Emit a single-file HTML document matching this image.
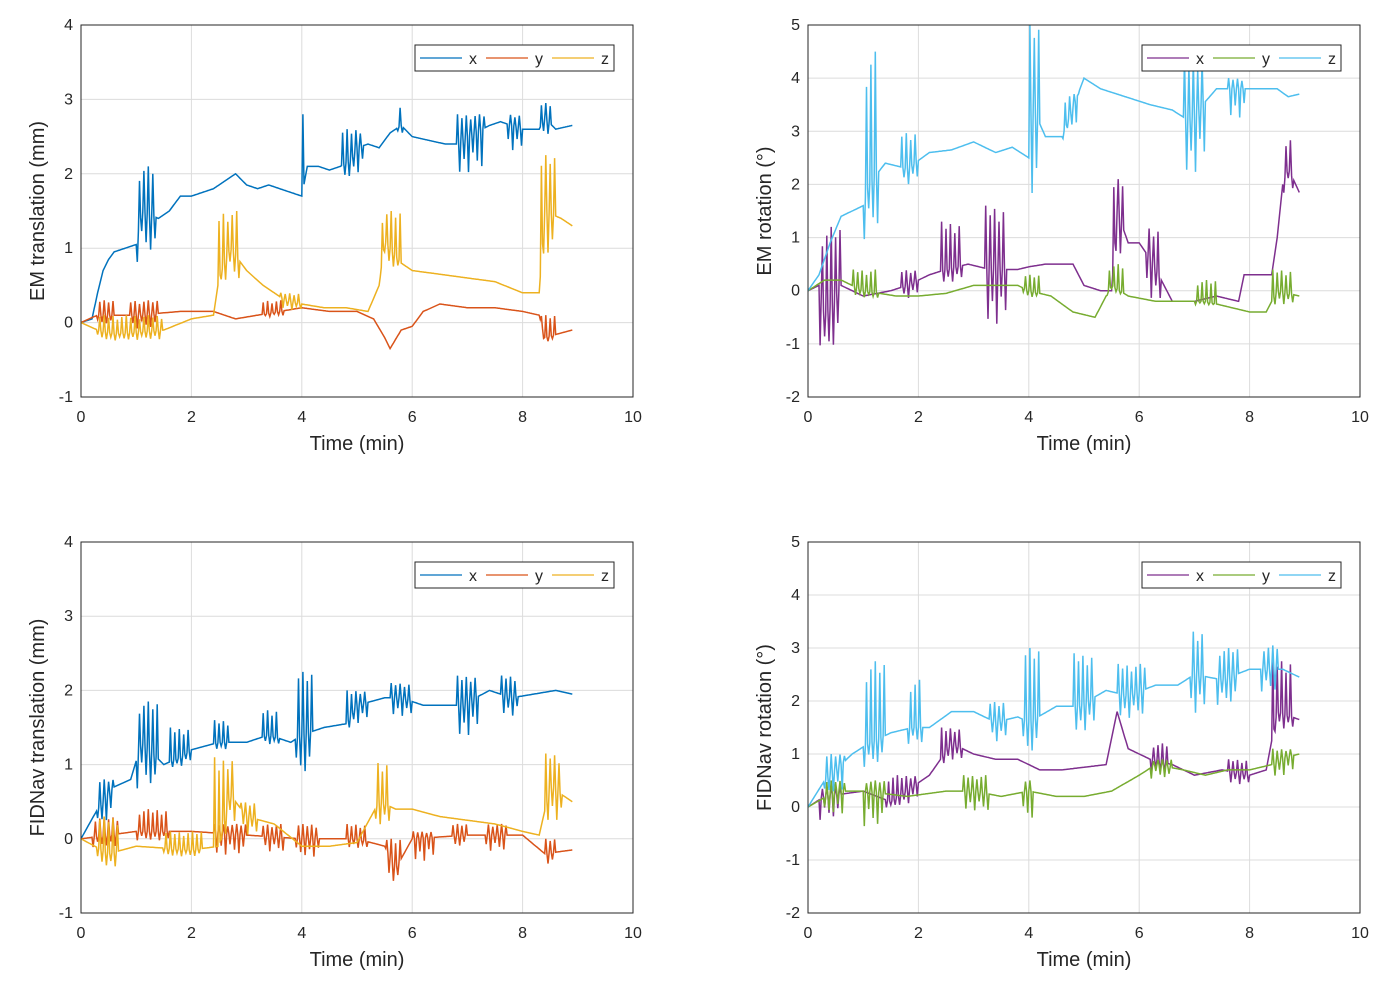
<!DOCTYPE html>
<html><head><meta charset="utf-8"><style>
body{margin:0;background:#fff}
svg{display:block;font-family:"Liberation Sans","DejaVu Sans",sans-serif}
</style></head><body>
<svg id="fig" width="1394" height="987" viewBox="0 0 1394 987"></svg>
<script>
// ---------- data ----------
const p1x=[[0,0],[0.2,0.05],[0.3,0.4],[0.4,0.7],[0.5,0.85],[0.6,0.95],[0.8,1.0],[1.0,1.05],[1.1,1.5],[1.4,1.4],[1.6,1.5],[1.8,1.7],[2.0,1.7],[2.2,1.75],[2.4,1.8],[2.6,1.9],[2.8,2.0],[3.0,1.85],[3.2,1.8],[3.4,1.85],[3.6,1.8],[3.8,1.75],[4.0,1.7],[4.1,2.1],[4.3,2.1],[4.5,2.05],[4.7,2.1],[4.9,2.2],[5.0,2.35],[5.2,2.4],[5.4,2.35],[5.6,2.55],[5.8,2.65],[6.0,2.5],[6.3,2.45],[6.6,2.4],[6.8,2.4],[7.0,2.5],[7.4,2.65],[7.6,2.7],[7.8,2.65],[8.0,2.6],[8.3,2.6],[8.4,2.75],[8.6,2.6],[8.9,2.65]];
const p1xB=[[1.0,1.35,0.6,2.1],[4.0,4.05,0.9,2.8],[4.7,5.1,1.8,2.6],[5.7,5.85,2.5,2.9],[6.8,7.3,1.7,2.8],[7.7,8.0,2.1,2.8],[8.3,8.5,2.4,2.95]];
const p1y=[[0,0],[0.3,0.1],[1.0,0.1],[1.8,0.15],[2.4,0.15],[2.8,0.05],[3.2,0.1],[3.6,0.15],[4.0,0.2],[4.5,0.15],[5.0,0.15],[5.3,0.05],[5.5,-0.2],[5.6,-0.35],[5.8,-0.1],[6.0,-0.05],[6.2,0.15],[6.5,0.25],[7.0,0.2],[7.5,0.2],[8.0,0.15],[8.3,0.1],[8.4,-0.2],[8.9,-0.1]];
const p1yB=[[0.3,0.6,-0.1,0.3],[0.9,1.4,-0.2,0.3],[3.3,3.7,0.05,0.3],[8.3,8.6,-0.3,0.1]];
const p1z=[[0,0],[0.3,-0.1],[0.6,-0.15],[1.5,-0.1],[2.0,0.05],[2.4,0.1],[2.5,0.6],[2.7,1.0],[3.0,0.7],[3.3,0.5],[3.5,0.4],[3.7,0.3],[4.0,0.25],[4.4,0.2],[4.8,0.2],[5.2,0.15],[5.4,0.5],[5.5,1.1],[5.8,0.8],[6.0,0.7],[6.5,0.65],[7.0,0.6],[7.5,0.55],[8.0,0.4],[8.3,0.4],[8.4,1.5],[8.7,1.4],[8.9,1.3]];
const p1zB=[[0.3,1.5,-0.3,0.1],[2.5,2.9,0.4,1.5],[3.6,4.0,0.1,0.4],[5.4,5.8,0.6,1.5],[8.3,8.6,0.5,2.25]];

const p2x=[[0,0],[0.2,0.1],[0.3,-0.5],[0.6,0.1],[1.0,-0.1],[1.5,0.0],[1.8,0.1],[2.2,0.3],[2.5,0.4],[2.9,0.5],[3.3,0.4],[3.8,0.4],[4.0,0.45],[4.3,0.5],[4.6,0.5],[4.8,0.5],[5.0,0.1],[5.3,0.0],[5.5,0.0],[5.6,1.5],[5.8,0.9],[6.0,0.9],[6.2,0.6],[6.6,-0.2],[7.0,-0.2],[7.4,-0.1],[7.8,-0.2],[7.9,0.3],[8.2,0.3],[8.4,0.3],[8.5,1.0],[8.6,2.0],[8.7,2.3],[8.9,1.85]];
const p2xB=[[0.2,0.6,-1.7,1.2],[1.7,2.0,-0.3,0.4],[2.4,2.8,0.0,1.3],[3.2,3.6,-1.3,1.6],[5.5,5.7,0.2,2.1],[6.1,6.4,-0.6,1.2],[8.6,8.8,1.7,2.9]];
const p2y=[[0,0],[0.3,0.2],[0.6,0.2],[1.0,0.0],[1.6,-0.1],[2.0,-0.1],[2.5,-0.05],[3.0,0.1],[3.5,0.1],[3.8,0.1],[4.0,0.0],[4.4,-0.1],[4.8,-0.4],[5.2,-0.5],[5.5,0.1],[5.8,-0.1],[6.3,-0.2],[6.8,-0.2],[7.2,-0.2],[7.6,-0.3],[8.0,-0.4],[8.3,-0.4],[8.5,0.0],[8.9,-0.1]];
const p2yB=[[0.8,1.3,-0.2,0.4],[3.9,4.2,-0.2,0.3],[5.4,5.7,-0.1,0.5],[7.0,7.4,-0.3,0.2],[8.4,8.8,-0.4,0.4]];
const p2z=[[0,0],[0.2,0.3],[0.4,0.9],[0.6,1.4],[0.8,1.5],[1.0,1.6],[1.1,2.0],[1.4,2.4],[1.8,2.3],[2.2,2.6],[2.6,2.65],[3.0,2.8],[3.4,2.6],[3.7,2.7],[4.0,2.5],[4.05,3.5],[4.3,2.9],[4.6,2.9],[5.0,4.0],[5.3,3.8],[5.6,3.7],[5.9,3.6],[6.2,3.5],[6.6,3.4],[6.9,3.2],[7.4,3.8],[7.7,3.8],[8.1,3.8],[8.5,3.8],[8.7,3.65],[8.9,3.7]];
const p2zB=[[1.0,1.3,0.5,4.5],[1.7,2.0,1.8,3.0],[4.0,4.2,0.5,5.0],[4.6,4.9,2.8,3.7],[6.8,7.2,1.5,4.4],[7.6,7.9,2.9,4.0]];

const p3x=[[0,0],[0.3,0.4],[0.6,0.7],[0.9,0.8],[1.1,1.3],[1.5,1.0],[1.8,1.1],[2.0,1.2],[2.5,1.3],[3.0,1.3],[3.4,1.4],[3.8,1.3],[4.0,1.4],[4.4,1.5],[4.8,1.55],[5.0,1.8],[5.5,1.9],[5.8,1.9],[6.2,1.8],[6.5,1.8],[6.9,1.8],[7.4,2.0],[7.8,1.9],[8.2,1.95],[8.6,2.0],[8.9,1.95]];
const p3xB=[[0.3,0.6,0.0,0.8],[1.0,1.4,0.4,1.85],[1.6,2.0,0.9,1.5],[2.4,2.7,1.15,1.6],[3.3,3.6,1.2,1.75],[3.9,4.2,0.5,2.25],[4.8,5.2,1.4,2.0],[5.6,6.0,1.5,2.1],[6.8,7.2,1.1,2.2],[7.6,7.9,1.5,2.2]];
const p3y=[[0,0],[1,0.1],[2,0.1],[3,0.05],[4,0.0],[5,0.0],[5.5,-0.1],[5.7,-0.4],[6,0.0],[7,0.05],[8,0.05],[8.4,-0.2],[8.9,-0.15]];
const p3yB=[[0.2,0.7,-0.2,0.3],[1.0,1.6,-0.1,0.4],[2.4,3.0,-0.4,0.2],[3.3,3.7,-0.3,0.2],[3.9,4.3,-0.4,0.2],[4.8,5.2,-0.2,0.2],[5.5,5.8,-0.75,0.0],[6.0,6.4,-0.5,0.1],[6.7,7.0,-0.2,0.2],[7.3,7.7,-0.3,0.2],[8.4,8.6,-0.45,0.0]];
const p3z=[[0,0],[0.5,-0.2],[1.0,-0.1],[2.0,-0.15],[2.5,-0.1],[2.7,0.6],[3.0,0.3],[3.5,0.2],[4.0,-0.1],[4.5,-0.1],[5.0,-0.05],[5.4,0.5],[5.7,0.4],[6.0,0.4],[6.5,0.3],[7.0,0.25],[7.5,0.2],[8.0,0.1],[8.3,0.05],[8.5,0.7],[8.9,0.5]];
const p3zB=[[0.3,0.7,-0.5,0.3],[1.5,2.2,-0.3,0.1],[2.4,2.8,-0.1,1.1],[2.9,3.2,-0.1,0.5],[5.3,5.6,0.0,1.05],[8.4,8.7,0.0,1.15]];

const p4x=[[0,0],[0.3,0.2],[1.0,0.3],[1.5,0.1],[2.2,0.6],[2.6,1.2],[3.0,1.0],[3.4,0.9],[3.8,0.9],[4.2,0.7],[4.6,0.7],[5.0,0.75],[5.4,0.8],[5.6,1.8],[5.8,1.1],[6.2,0.9],[6.6,0.8],[7.0,0.6],[7.5,0.7],[8.0,0.6],[8.3,0.7],[8.5,1.8],[8.9,1.65]];
const p4xB=[[0.2,0.6,-0.5,0.4],[1.4,2.0,-0.1,0.6],[2.4,2.8,0.7,1.5],[6.2,6.5,0.5,1.2],[7.6,8.0,0.3,0.9],[8.4,8.8,1.3,2.8]];
const p4y=[[0,0],[0.5,0.3],[1.0,0.3],[1.8,0.2],[2.5,0.3],[3.0,0.3],[3.5,0.2],[4.0,0.3],[4.5,0.2],[5.0,0.2],[5.5,0.3],[6.0,0.6],[6.3,0.8],[6.8,0.7],[7.2,0.6],[7.6,0.7],[8.0,0.7],[8.4,0.8],[8.7,0.95],[8.9,1.0]];
const p4yB=[[0.3,0.7,-0.4,0.5],[1.0,1.4,-0.8,0.5],[2.8,3.3,-0.3,0.6],[3.9,4.1,-0.6,0.5],[6.2,6.6,0.4,0.9],[8.4,8.8,0.4,1.1]];
const p4z=[[0,0],[0.3,0.5],[0.8,1.0],[1.1,1.2],[1.5,1.4],[1.9,1.5],[2.2,1.5],[2.6,1.8],[3.0,1.8],[3.4,1.6],[3.8,1.7],[4.0,1.6],[4.5,1.9],[4.9,1.9],[5.4,2.2],[5.8,2.1],[6.3,2.3],[6.7,2.3],[7.0,2.5],[7.5,2.4],[8.0,2.6],[8.3,2.6],[8.6,2.6],[8.9,2.45]];
const p4zB=[[0.3,0.7,0.0,1.0],[1.0,1.4,0.5,2.75],[1.8,2.1,1.0,2.4],[3.3,3.6,1.0,2.0],[3.9,4.2,0.6,3.0],[4.8,5.2,1.1,2.9],[5.6,6.1,1.4,2.7],[6.9,7.2,1.3,3.35],[7.4,7.8,1.6,3.0],[8.2,8.5,1.9,3.05]];

const xTicks=[0,2,4,6,8,10];
const yTicksT=[-1,0,1,2,3,4];
const yTicksR=[-2,-1,0,1,2,3,4,5];
const legendLabels=["x","y","z"];

// ---------- drawing ----------
const NS="http://www.w3.org/2000/svg";
const svg=document.getElementById('fig');
function mk(tag,attrs,parent){const e=document.createElementNS(NS,tag);for(const k in attrs)e.setAttribute(k,attrs[k]);(parent||svg).appendChild(e);return e;}
const C1=["#0072BD","#D95319","#EDB120"], C2=["#7E2F8E","#77AC30","#4DBEEE"];
const spikeShape=[1,0.55,0.85,0.35,0.95,0.6,0.75,0.3,0.9,0.45];
function interp(arr,t){
 if(t<=arr[0][0])return arr[0][1];
 for(let i=1;i<arr.length;i++){if(t<=arr[i][0]){const a=arr[i-1],b=arr[i];return a[1]+(b[1]-a[1])*(t-a[0])/(b[0]-a[0]);}}
 return arr[arr.length-1][1];
}
const panels=[
 {L:81,T:25,B:397,ymin:-1,ymax:4,ticks:yTicksT,label:"EM translation (mm)",series:[[p1x,p1xB],[p1y,p1yB],[p1z,p1zB]],col:C1,name:"em-translation"},
 {L:808,T:25,B:397,ymin:-2,ymax:5,ticks:yTicksR,label:"EM rotation (°)",series:[[p2x,p2xB],[p2y,p2yB],[p2z,p2zB]],col:C2,name:"em-rotation"},
 {L:81,T:542,B:913,ymin:-1,ymax:4,ticks:yTicksT,label:"FIDNav translation (mm)",series:[[p3x,p3xB],[p3y,p3yB],[p3z,p3zB]],col:C1,name:"fidnav-translation"},
 {L:808,T:542,B:913,ymin:-2,ymax:5,ticks:yTicksR,label:"FIDNav rotation (°)",series:[[p4x,p4xB],[p4y,p4yB],[p4z,p4zB]],col:C2,name:"fidnav-rotation"}];
panels.forEach(p=>{
 const W=552,R=p.L+W;
 const g=mk('g',{});
 
 
 const X=t=>p.L+t/10*W, Y=v=>p.B-(v-p.ymin)/(p.ymax-p.ymin)*(p.B-p.T);
 mk('rect',{x:p.L,y:p.T,width:W,height:p.B-p.T,fill:'#fff'},g);
 xTicks.forEach(t=>{
  const l=mk('line',{x1:X(t),x2:X(t),y1:p.T,y2:p.B,stroke:'#dcdcdc','stroke-width':1},g);
  
  const tx=mk('text',{x:X(t),y:p.B+25,'text-anchor':'middle','font-size':16,fill:'#262626'},g);tx.textContent=t;
  
 });
 p.ticks.forEach(v=>{
  const l=mk('line',{x1:p.L,x2:R,y1:Y(v),y2:Y(v),stroke:'#dcdcdc','stroke-width':1},g);
  
  const tx=mk('text',{x:p.L-8,y:Y(v)+5,'text-anchor':'end','font-size':16,fill:'#262626'},g);tx.textContent=v;
  
 });
 p.series.forEach((s,i)=>{
  const base=s[0], bursts=s[1];
  const tEnd=base[base.length-1][0];
  let d='',k=0;
  for(let t=0;t<=tEnd+1e-9;t+=0.02,k++){
   let v=interp(base,t);
   const b=bursts.find(q=>t>=q[0]&&t<=q[1]);
   if(b && k%2===1){
    const a=spikeShape[(k>>1)%spikeShape.length];
    const up=((k>>1)%2===0);
    v = up ? v+(b[3]-v)*a : v+(b[2]-v)*a;
   }
   d+=(k?'L':'M')+X(t).toFixed(1)+','+Y(v).toFixed(1);
  }
  const path=mk('path',{d:d,fill:'none',stroke:p.col[i],'stroke-width':1.5,'stroke-linejoin':'miter'},g);
  
  
 });
 const ax=mk('rect',{x:p.L,y:p.T,width:W,height:p.B-p.T,fill:'none',stroke:'#262626','stroke-width':1},g);
 
 const xl=mk('text',{x:p.L+W/2,y:p.B+53,'text-anchor':'middle','font-size':20,fill:'#262626'},g);xl.textContent='Time (min)';
 
 const cy=(p.T+p.B)/2, cx=p.L-37;
 const yl=mk('text',{x:cx,y:cy,'text-anchor':'middle','font-size':20,fill:'#262626',transform:`rotate(-90 ${cx} ${cy})`},g);yl.textContent=p.label;
 
 const lx=p.L+334, ly=p.T+20;
 const lg=mk('g',{},g);
 
 mk('rect',{x:lx,y:ly,width:199,height:26,fill:'#fff',stroke:'#262626','stroke-width':1},lg);
 legendLabels.forEach((lab,i)=>{
  const ex=lx+5+i*66;
  const e=mk('g',{},lg);
  
  mk('line',{x1:ex,x2:ex+42,y1:ly+13,y2:ly+13,stroke:p.col[i],'stroke-width':1.3},e);
  const t=mk('text',{x:ex+53,y:ly+19,'text-anchor':'middle','font-size':16,fill:'#262626'},e);t.textContent=lab;
 });
});
</script>
</body></html>
